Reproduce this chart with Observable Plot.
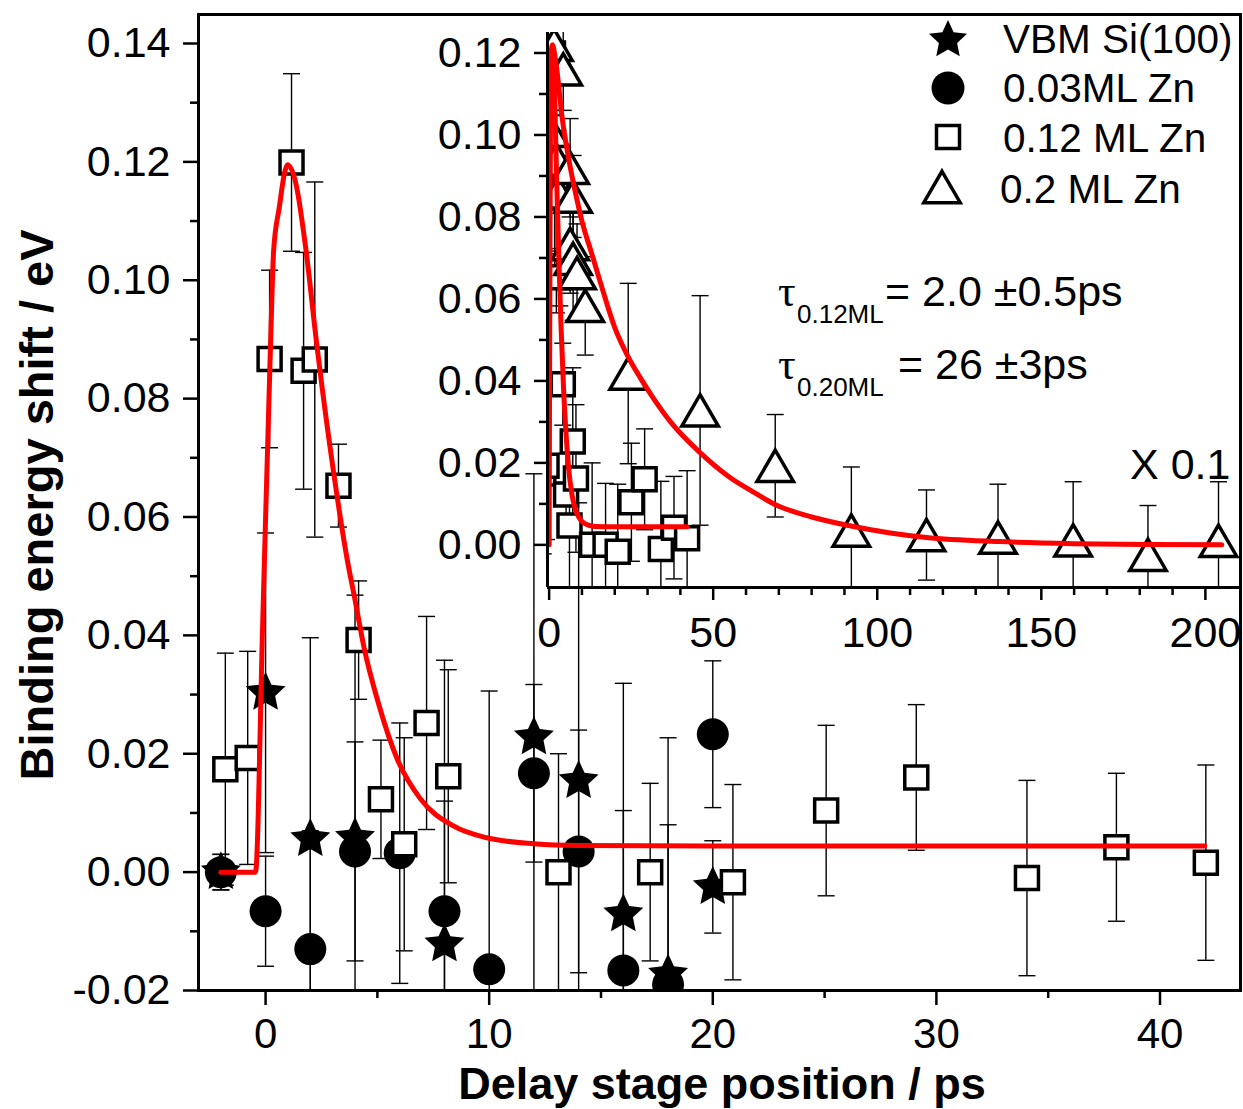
<!DOCTYPE html>
<html><head><meta charset="utf-8">
<script src="https://cdn.jsdelivr.net/npm/d3@7"></script>
<script src="https://cdn.jsdelivr.net/npm/@observablehq/plot@0.6"></script>
<style>
html,body{margin:0;padding:0;background:#fff;}
#wrap{position:relative;width:1243px;height:1109px;overflow:hidden;background:#fff;}
#wrap svg{position:absolute;}
</style></head><body><div id="wrap"></div>
<script>
// ---------- data ----------
// 0.12 ML Zn (open squares): delay (ps), shift (eV), error (eV)
const sqT = [-1.8, -0.8, 0.18, 1.16, 1.7, 2.2, 3.26, 4.16, 5.16, 6.2, 7.2, 8.17, 13.1, 17.2, 20.9, 25.07, 29.1, 34.05, 38.05, 42.05];
const sqV = [0.0174, 0.0193, 0.0867, 0.1199, 0.0847, 0.0866, 0.0653, 0.0392, 0.0123, 0.0047, 0.0252, 0.0162, 0.0, 0.0, -0.0017, 0.0104, 0.016, -0.001, 0.0042, 0.0016];
const sqE = [0.0196, 0.018, 0.015, 0.015, 0.020, 0.030, 0.007, 0.010, 0.010, 0.018, 0.018, 0.018, 0.020, 0.015, 0.0165, 0.0144, 0.0123, 0.0165, 0.0125, 0.0165];
// 0.03 ML Zn (filled circles)
const ciT = [-2, 0, 2, 4, 6, 8, 10, 12, 14, 16, 18, 20];
const ciV = [0.0, -0.0066, -0.013, 0.0035, 0.0032, -0.0066, -0.0164, 0.0167, 0.0035, -0.0166, -0.019, 0.0233];
const ciE = [0.003, 0.0093, 0.02, 0.0185, 0.022, 0.0186, 0.047, 0.015, 0.0205, 0.027, 0.027, 0.0124];
// VBM Si(100) (stars)
const stT = [-2, 0, 2, 4, 8, 12, 14, 16, 18, 20];
const stV = [0.0, 0.0303, 0.0056, 0.0058, -0.0122, 0.0228, 0.0154, -0.0071, -0.0173, -0.0025];
const stE = [0.003, 0.027, 0.034, 0.041, 0.048, 0.0445, 0.047, 0.039, 0.040, 0.0078];
// 0.2 ML Zn (open triangles, inset)
const trT = [0.3, 1.5, 2.2, 2.7, 4.3, 6.4, 7.3, 6.4, 7.3, 8.5, 11.0, 24.1, 46.0, 68.9, 92.1, 115, 136.8, 159.7, 182.5, 204];
const trV = [0.101, 0.122, 0.094, 0.086, 0.116, 0.092, 0.085, 0.0734, 0.0698, 0.0663, 0.0583, 0.0418, 0.0328, 0.0193, 0.0035, 0.0024, 0.0018, 0.0011, -0.0024, 0.0010];
const trE = [0.012, 0.010, 0.012, 0.015, 0.010, 0.012, 0.010, 0.012, 0.015, 0.012, 0.012, 0.022, 0.028, 0.0125, 0.0155, 0.011, 0.013, 0.0143, 0.012, 0.0144];
// fit curve, 0.12 ML (tau = 2.0 ps)
const fitT = [-2, -0.45, -0.13, 0.22, 0.36, 0.6, 0.98, 1.34, 1.79, 2.3, 3.04, 3.66, 4.0, 4.4, 5.05, 5.9, 6.9, 8.4, 9.9, 12, 14, 20, 30, 42];
const fitV = [0, 0, 0.042, 0.089, 0.105, 0.112, 0.1195, 0.1166, 0.1056, 0.0888, 0.0676, 0.0526, 0.046, 0.038, 0.0285, 0.019, 0.0125, 0.0078, 0.0058, 0.0048, 0.0045, 0.0044, 0.0044, 0.0044];
// fit curve, 0.20 ML (tau = 26 ps)
const fit2T = [-0.3, 0, 0.4, 1, 2, 4, 6, 8, 10, 13, 16, 20, 24, 28, 32, 37, 46, 55, 62, 69, 80, 92, 104, 115, 137, 160, 182, 205];
const fit2V = [0, 0, 0.118, 0.122, 0.118, 0.104, 0.094, 0.086, 0.079, 0.071, 0.063, 0.053, 0.046, 0.0405, 0.0355, 0.030, 0.0225, 0.0165, 0.013, 0.0098, 0.0068, 0.0046, 0.0029, 0.0018, 0.0008, 0.0003, 0.0001, 0.0];
// ticks
const xMajor = [0, 10, 20, 30, 40];
const xMinor = [5, 15, 25, 35];
const yMajor = [-0.02, 0, 0.02, 0.04, 0.06, 0.08, 0.10, 0.12, 0.14];
const yMinor = [-0.01, 0.01, 0.03, 0.05, 0.07, 0.09, 0.11, 0.13];
const ixMajor = [0, 50, 100, 150, 200];
const ixMinor = [10, 20, 30, 40, 60, 70, 80, 90, 110, 120, 130, 140, 160, 170, 180, 190];
const iyMajor = [0, 0.02, 0.04, 0.06, 0.08, 0.10, 0.12];
const iyMinor = [0.01, 0.03, 0.05, 0.07, 0.09, 0.11];
const legendLabels = ["VBM Si(100)", "0.03ML Zn", "0.12 ML Zn", "0.2 ML Zn"];

// ---------- build tables ----------
const rows = (T, V, E) => T.map((t, i) => ({t, v: V[i], e: E ? E[i] : 0}));
const sq = rows(sqT, sqV, sqE), ci = rows(ciT, ciV, ciE), st = rows(stT, stV, stE), tr = rows(trT, trV, trE);
const fit = rows(fitT, fitV), fit2 = rows(fit2T, fit2V);

const FONT = '"Liberation Sans", Arial, Helvetica, sans-serif';
const sym = f => ({draw(c, size) { f(c, Math.sqrt(size / Math.PI)); }});
const capSym = sym((c, r) => { c.moveTo(-r, 0); c.lineTo(r, 0); });
const squareSym = sym((c, r) => { c.rect(-r, -r, 2 * r, 2 * r); });
const triSym = sym((c, r) => { const h = r * 0.86; c.moveTo(0, -h); c.lineTo(r, h); c.lineTo(-r, h); c.closePath(); });
const starSym = sym((c, R) => { const ri = R * 0.48; for (let i = 0; i < 10; i++) { const a = -Math.PI / 2 + i * Math.PI / 5; const rr = i % 2 ? ri : R; const x = rr * Math.cos(a), y = rr * Math.sin(a); if (i) c.lineTo(x, y); else c.moveTo(x, y); } c.closePath(); });

function errMarks(data) {
  const o = {stroke: "black", strokeWidth: 1.4, clip: true};
  return [
    Plot.ruleX(data, {x: "t", y1: d => d.v - d.e, y2: d => d.v + d.e, ...o}),
    Plot.dot(data, {x: "t", y: d => d.v + d.e, symbol: capSym, r: 8.5, fill: "none", ...o}),
    Plot.dot(data, {x: "t", y: d => d.v - d.e, symbol: capSym, r: 8.5, fill: "none", ...o})
  ];
}
const style = {fontFamily: FONT, fontSize: "43px", background: "transparent", color: "black", overflow: "visible"};
const mk = {
  circle: {r: 16, fill: "black", stroke: "none", clip: true},
  star: {symbol: starSym, r: 21, fill: "black", stroke: "none", clip: true},
  square: {symbol: squareSym, r: 11.5, fill: "white", stroke: "black", strokeWidth: 3.5, clip: true},
  tri: {symbol: triSym, r: 18.25, fill: "white", stroke: "black", strokeWidth: 3.5, clip: true}
};
const red = {x: "t", y: "v", stroke: "#ff0000", strokeWidth: 5, curve: "monotone-x", clip: true};

// ---------- main plot ----------
const xDom = [-3, 43.6], yDom = [-0.02, 0.1449];
const main = Plot.plot({
  width: 1243, height: 1109, marginLeft: 198, marginRight: 3, marginTop: 14, marginBottom: 119,
  x: {domain: xDom, label: null}, y: {domain: yDom, label: null},
  style,
  marks: [
    ...errMarks(ci), ...errMarks(st), ...errMarks(sq),
    Plot.dot(ci, {x: "t", y: "v", ...mk.circle}),
    Plot.dot(st, {x: "t", y: "v", ...mk.star}),
    Plot.dot(sq, {x: "t", y: "v", ...mk.square}),
    Plot.line(fit, red),
    Plot.axisX({ticks: xMajor, tickSize: 15, tickPadding: 13, fontSize: 42, tickFormat: d => String(d), strokeWidth: 2.5, label: null}),
    Plot.axisX({ticks: xMinor, tickSize: 8, tickFormat: () => "", strokeWidth: 2.5, label: null}),
    Plot.axisY({ticks: yMajor, tickSize: 15, tickPadding: 13, tickFormat: d => d.toFixed(2), strokeWidth: 2.5, label: null}),
    Plot.axisY({ticks: yMinor, tickSize: 8, tickFormat: () => "", strokeWidth: 2.5, label: null}),
    Plot.frame({stroke: "black", strokeWidth: 3})
  ]
});
main.style.left = "0px"; main.style.top = "0px";

// ---------- inset ----------
const ixDom = [-0.5, 210.7], iyDom = [-0.0104, 0.125];
const inset = Plot.plot({
  width: 843, height: 680, marginLeft: 147, marginRight: 3, marginTop: 32, marginBottom: 93,
  x: {domain: ixDom, label: null}, y: {domain: iyDom, label: null},
  style,
  marks: [
    ...errMarks(sq), ...errMarks(tr),
    Plot.dot(sq, {x: "t", y: "v", ...mk.square}),
    Plot.dot(tr, {x: "t", y: "v", ...mk.tri}),
    Plot.line(fit, red),
    Plot.line(fit2, red),
    Plot.ruleX([ixDom[0]], {stroke: "black", strokeWidth: 3}),
    Plot.ruleY([iyDom[0]], {stroke: "black", strokeWidth: 3}),
    Plot.axisX({ticks: ixMajor, tickSize: 13, tickPadding: 16, tickFormat: d => String(d), strokeWidth: 2.5, label: null}),
    Plot.axisX({ticks: ixMinor, tickSize: 8, tickFormat: () => "", strokeWidth: 2.5, label: null}),
    Plot.axisY({ticks: iyMajor, tickSize: 13, tickPadding: 13, tickFormat: d => d.toFixed(2), strokeWidth: 2.5, label: null}),
    Plot.axisY({ticks: iyMinor, tickSize: 8, tickFormat: () => "", strokeWidth: 2.5, label: null})
  ]
});
inset.style.left = "400px"; inset.style.top = "0px";

const wrap = document.getElementById("wrap");
wrap.appendChild(main);
wrap.appendChild(inset);

// ---------- titles, legend, annotations ----------
const ov = d3.create("svg").attr("width", 1243).attr("height", 1109)
  .style("left", "0px").style("top", "0px").style("overflow", "visible")
  .attr("font-family", FONT).attr("fill", "black");
ov.append("text").attr("x", 722).attr("y", 1099).attr("text-anchor", "middle")
  .attr("font-size", 45).attr("font-weight", "bold").text("Delay stage position / ps");
ov.append("text").attr("transform", "translate(53,505) rotate(-90)").attr("text-anchor", "middle")
  .attr("font-size", 47).attr("font-weight", "bold").text("Binding energy shift / eV");

const legSyms = [
  {s: starSym, r: 20, fill: "black", stroke: "none", cx: 948, cy: 40, tx: 1003, ty: 53},
  {s: d3.symbolCircle, r: 16.5, fill: "black", stroke: "none", cx: 948, cy: 88, tx: 1003, ty: 102},
  {s: squareSym, r: 11.5, fill: "white", stroke: "black", cx: 948, cy: 137, tx: 1003, ty: 152},
  {s: triSym, r: 18.25, fill: "white", stroke: "black", cx: 942, cy: 187, tx: 1000, ty: 203}
];
legSyms.forEach((d, i) => {
  ov.append("path").attr("d", d3.symbol(d.s, Math.PI * d.r * d.r)())
    .attr("transform", `translate(${d.cx},${d.cy})`)
    .attr("fill", d.fill).attr("stroke", d.stroke).attr("stroke-width", 3.5);
  ov.append("text").attr("x", d.tx).attr("y", d.ty).attr("font-size", 40.5).text(legendLabels[i]);
});

function tau(y, sub, rest, restX) {
  ov.append("text").attr("x", 778).attr("y", y).attr("font-size", 44)
    .attr("font-family", '"Liberation Serif", "DejaVu Serif", serif').text("τ");
  ov.append("text").attr("x", 797).attr("y", y + 17).attr("font-size", 26).text(sub);
  ov.append("text").attr("x", restX).attr("y", y).attr("font-size", 43).text(rest);
}
tau(306, "0.12ML", "= 2.0 ±0.5ps", 885);
tau(379, "0.20ML", "= 26 ±3ps", 898);
ov.append("text").attr("x", 1130).attr("y", 479).attr("font-size", 43).text("X 0.1");
wrap.appendChild(ov.node());
</script>
</body></html>
